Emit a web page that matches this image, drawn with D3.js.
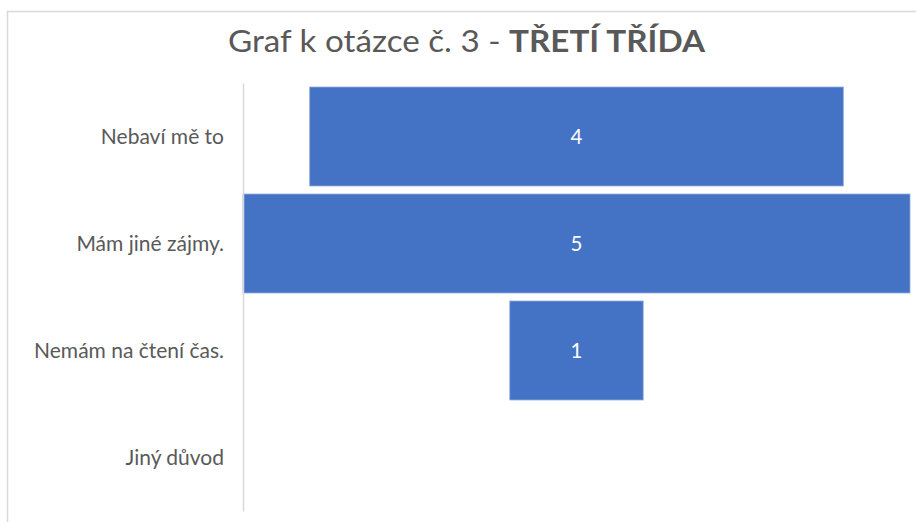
<!DOCTYPE html>
<html><head><meta charset="utf-8">
<script src="https://cdn.jsdelivr.net/npm/d3@7"></script>
<style>html,body{margin:0;padding:0;background:#fff;}svg{display:block;}</style>
</head><body>
<svg id="c" width="916" height="522"></svg>
<script>
const categories = ["Nebaví mě to", "Mám jiné zájmy.", "Nemám na čtení čas.", "Jiný důvod"];
const values = [4, 5, 1, 0];
const titleNormal = "Graf k otázce č. 3 - ";
const titleBold = "TŘETÍ TŘÍDA";

const svg = d3.select("#c");
const W = 916, H = 522;
const font = "Lato, 'Open Sans', sans-serif";
const margin = {left: 243, right: 6, top: 83, bottom: 11};

svg.append("rect").attr("x", 7.5).attr("y", 11.5).attr("width", W + 20).attr("height", H + 20)
  .attr("fill", "#fff").attr("stroke", "#d9d9d9").attr("stroke-width", 1.5);

const title = svg.append("text").attr("x", 466.5).attr("y", 52).attr("text-anchor", "middle")
  .attr("font-family", font).attr("font-size", 31).attr("fill", "#595959");
title.append("tspan").text(titleNormal);
title.append("tspan").attr("font-weight", "bold").text(titleBold);
title.attr("textLength", 477).attr("lengthAdjust", "spacingAndGlyphs");

const y = d3.scaleBand().domain(categories).range([margin.top, H - margin.bottom])
  .paddingInner(0.075).paddingOuter(0.0375);
const x = d3.scaleLinear().domain([0, d3.max(values)]).range([0, W - margin.right - margin.left]);
const cx = margin.left + (W - margin.right - margin.left) / 2;

const data = categories.map((c, i) => ({c, v: values[i]}));

svg.append("g").selectAll("rect").data(data.filter(d => d.v > 0)).join("rect")
  .attr("x", d => cx - x(d.v) / 2).attr("y", d => y(d.c))
  .attr("width", d => x(d.v)).attr("height", y.bandwidth())
  .attr("fill", "#4472c4").attr("stroke", "#8faadc").attr("stroke-width", 0.8);

svg.append("g").selectAll("text").data(data.filter(d => d.v > 0)).join("text")
  .attr("x", cx).attr("y", d => y(d.c) + y.bandwidth() / 2 + 7.5)
  .attr("text-anchor", "middle").attr("font-family", font).attr("font-size", 20.5)
  .attr("fill", "#fff").text(d => d.v);

const axis = d3.axisLeft(y).tickSize(0).tickPadding(19);
const ag = svg.append("g").attr("transform", `translate(${margin.left},0)`).call(axis);
ag.select(".domain").attr("stroke", "#d9d9d9").attr("stroke-width", 1.5);
ag.selectAll("text").attr("font-family", font).attr("font-size", 21).attr("fill", "#595959")
  .attr("dy", "0.34em");
</script>
</body></html>
